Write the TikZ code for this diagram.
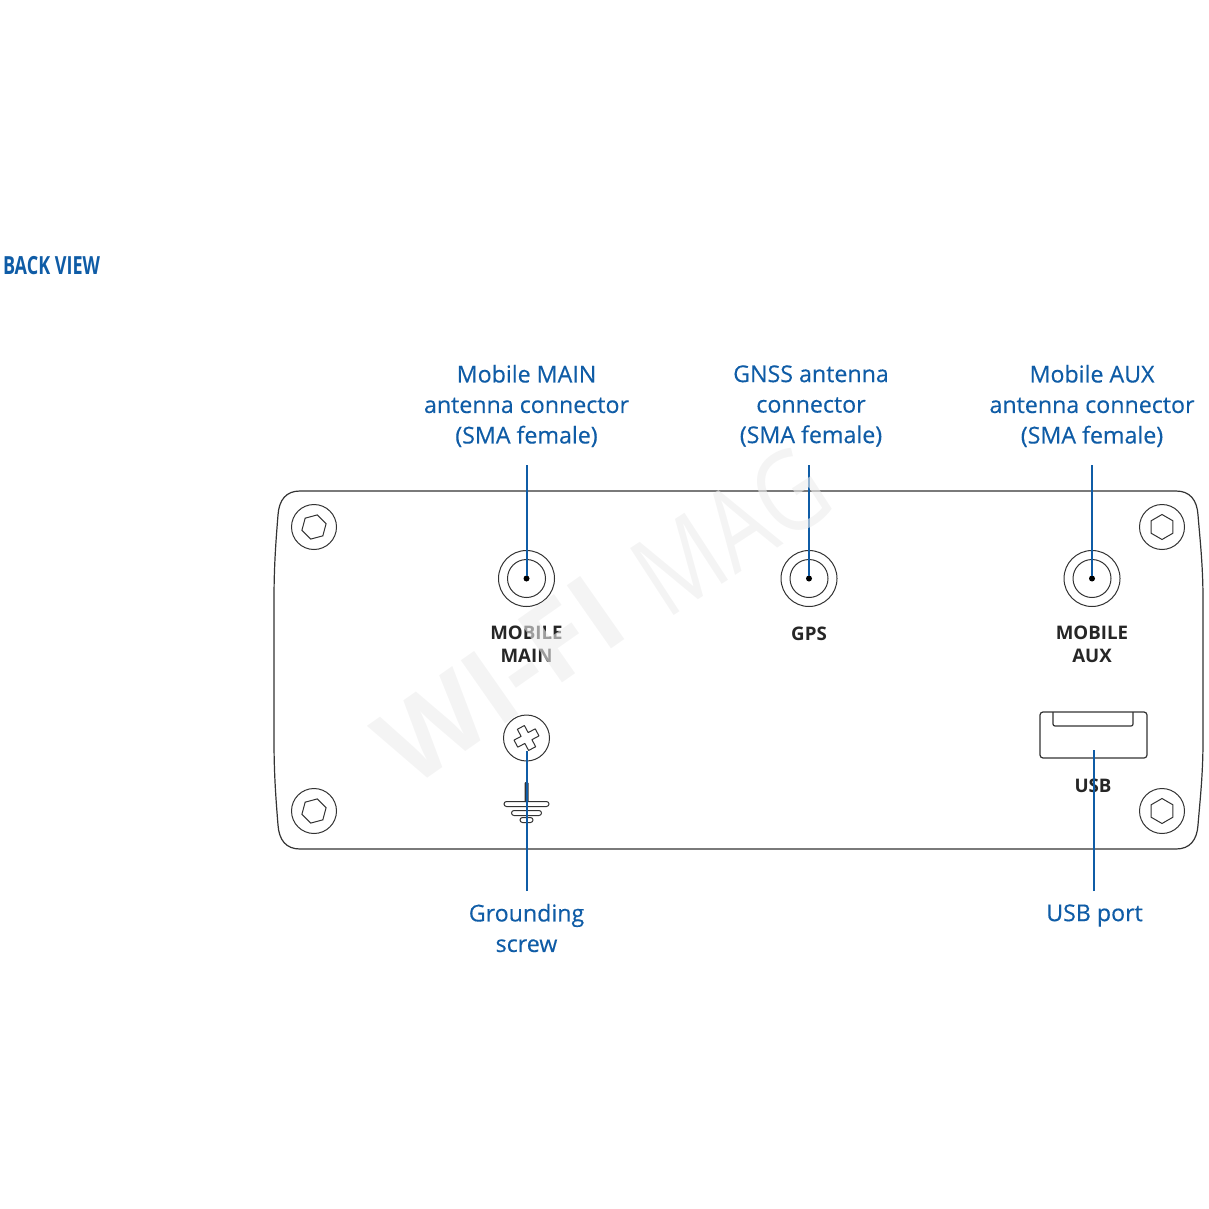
\documentclass[tikz,border=0pt]{standalone}
\usepackage{fontspec}
\setmainfont{Open Sans}
\newfontfamily\headfont[FakeStretch=0.72]{Open Sans}
\newfontfamily\calloutfont[FakeBold=0.35]{Open Sans}
\usetikzlibrary{positioning,shapes.geometric}
\definecolor{leadblue}{HTML}{0F5CA6}
\definecolor{bodyline}{HTML}{333333}
\definecolor{printdark}{HTML}{262626}

\begin{document}
\begin{tikzpicture}[x=1pt,y=-1pt,inner sep=0pt,outer sep=0pt]
  \tikzstyle{portO}=[circle,draw=bodyline,line width=1pt,minimum size=56pt]
  \tikzstyle{portI}=[circle,draw=bodyline,line width=1pt,minimum size=38pt]
  \tikzstyle{pin}=[circle,fill=black,minimum size=6pt]
  \tikzstyle{screw}=[circle,draw=bodyline,line width=1pt,minimum size=45pt]
  \tikzstyle{hexhead}=[regular polygon,regular polygon sides=6,draw=bodyline,line width=1pt,minimum size=25pt]
  \tikzstyle{callout}=[text=leadblue,font=\fontsize{23.2}{30.5}\selectfont\calloutfont,align=center]
  \tikzstyle{print}=[text=printdark,font=\fontsize{18.7}{23}\selectfont\bfseries,align=center]
  \tikzstyle{lead}=[draw=leadblue,line width=2pt]
  \tikzstyle{outline}=[draw=bodyline,line width=1.2pt]
  \tikzstyle{wmark}=[text=black!7,opacity=0.6,text opacity=0.6]

  \useasboundingbox (0,0) rectangle (1209,1209);

  \node[text=leadblue,font=\fontsize{25}{25}\selectfont\headfont\bfseries,anchor=west] (title) at (3,266) {BACK VIEW};

  % case
  \path[outline] (300,491) -- (1176,491) .. controls (1190,491) and (1197,500) .. (1198,515)
      .. controls (1200,540) and (1203,565) .. (1203,600) -- (1203,740)
      .. controls (1203,775) and (1200,800) .. (1198,825)
      .. controls (1197,840) and (1190,849) .. (1176,849) -- (300,849)
      .. controls (286,849) and (279,840) .. (278,825)
      .. controls (276,800) and (274,775) .. (274,740) -- (274,600)
      .. controls (274,565) and (276,540) .. (278,515)
      .. controls (279,500) and (286,491) .. (300,491) -- cycle;

  % corner screws
  \foreach \name/\px/\py/\hexrot in {tl/314/527/15, tr/1162/527/30, bl/314/811/15, br/1162/811/30} {
    \node[screw] (screw\name) at (\px,\py) {};
    \node[hexhead,rotate=\hexrot] (hex\name) at (screw\name.center) {};
  }

  % antenna ports
  \node[portO] (mainport) at (526.5,578.5) {};
  \node[portI] at (mainport.center) {};
  \node[pin] (mainpin) at (mainport.center) {};
  \node[portO] (gpsport) at (809,578.5) {};
  \node[portI] at (gpsport.center) {};
  \node[pin] (gpspin) at (gpsport.center) {};
  \node[portO] (auxport) at (1092,578.5) {};
  \node[portI] at (auxport.center) {};
  \node[pin] (auxpin) at (auxport.center) {};

  \node[print] (mainprint) at (526.5,644) {MOBILE\\MAIN};
  \node[print] (gpsprint) at (809,633.5) {GPS};
  \node[print] (auxprint) at (1092,644) {MOBILE\\AUX};

  % grounding screw and symbol
  \node[circle,draw=bodyline,line width=1pt,minimum size=46pt] (gndscrew) at (526.5,738) {};
  \begin{scope}[shift={(526.5,738)},rotate=28]
    \draw[outline,line width=1pt,line join=round] (-4,-12) -- (4,-12) -- (4,-4) -- (12,-4) -- (12,4) -- (4,4) -- (4,12)
        -- (-4,12) -- (-4,4) -- (-12,4) -- (-12,-4) -- (-4,-4) -- cycle;
  \end{scope}
  \node[outline,line width=1pt,rounded corners=2.5pt,minimum width=45pt,minimum height=5pt] (gndA) at (526.5,804) {};
  \node[outline,line width=1pt,rounded corners=2.5pt,minimum width=30pt,minimum height=5pt] (gndB) at (526.5,813) {};
  \node[outline,line width=1pt,rounded corners=2.5pt,minimum width=13pt,minimum height=5pt] (gndC) at (526.5,820) {};
  \node[fill=bodyline,rounded corners=1pt,minimum width=4pt,minimum height=20pt] (gndstem) at (526.5,792) {};

  % usb socket
  \node[outline,rounded corners=3pt,minimum width=107pt,minimum height=46pt] (usbport) at (1093.5,735) {};
  \path[outline,rounded corners=2pt] (1053,712) -- (1053,726) -- (1133,726) -- (1133,712);
  \node[print] (usbprint) at (1093,786) {USB};

  % callouts
  \node[callout] (mainlabel) at (526.5,406) {Mobile MAIN\\antenna connector\\(SMA female)};
  \node[callout] (gpslabel) at (811,406) {GNSS antenna\\connector\\(SMA female)};
  \node[callout] (auxlabel) at (1092,406) {Mobile AUX\\antenna connector\\(SMA female)};
  \node[callout] (gndlabel) at (526.5,928) {Grounding\\screw};
  \node[callout] (usblabel) at (1094.5,915.5) {USB port};

  \coordinate (maintop) at (526.5,465);
  \coordinate (gpstop) at (809,465);
  \coordinate (auxtop) at (1092,465);
  \coordinate (gndfoot) at (526.5,891);
  \coordinate (gndtip) at (526.5,751);
  \coordinate (usbfoot) at (1094,891);
  \coordinate (usbtip) at (1094,750);

  \path[lead] (maintop) edge (mainpin);
  \path[lead] (gpstop) edge (gpspin);
  \path[lead] (auxtop) edge (auxpin);
  \path[lead] (gndfoot) edge (gndtip);
  \path[lead] (usbfoot) edge (usbtip);

  % watermark
  \node[wmark,rotate=35,font=\fontsize{108}{108}\selectfont\bfseries] (wifi) at (500,680) {WI-FI};
  \node[wmark,rotate=33,xscale=0.82,font=\fontsize{112}{112}\selectfont] (mag) at (731,531) {MAG};
\end{tikzpicture}
\end{document}
